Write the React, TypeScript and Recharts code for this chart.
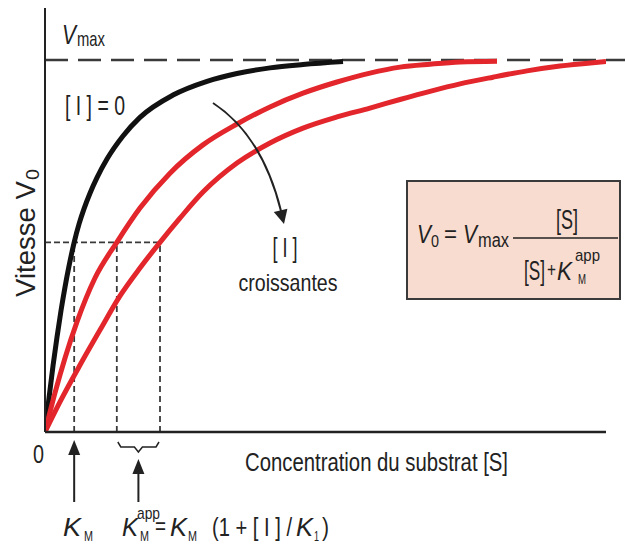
import type { ReactNode } from 'react';
import { LineChart, Line, XAxis, YAxis, ReferenceLine } from 'recharts';

const W = 625;
const H = 549;
const MARGIN = { top: 8, right: 19, bottom: 117, left: 45 };
const S_MAX = 100;
const V_TOP = 1.14;

const FONT = '"Liberation Sans", Arial, sans-serif';
const INK = '#222';
const DASH = '#3a3a3a';
const RED = '#e2262b';

// substrate concentration (arbitrary units) and V0 / Vmax for each curve
const noInhibitorS = [0, 0.71, 1.43, 2.14, 2.85, 3.57, 4.28, 5.2, 6.06, 6.95, 8.02, 9.27, 11.05, 13.9, 16.93, 22.82, 28.88, 34.22, 40.11, 45.99, 53.12];
const noInhibitorV = [0, 0.091, 0.178, 0.255, 0.326, 0.39, 0.446, 0.51, 0.559, 0.6, 0.642, 0.684, 0.734, 0.796, 0.846, 0.906, 0.943, 0.964, 0.979, 0.988, 0.996];

const lowInhibitorS = [0, 1.78, 3.57, 5.7, 8.91, 12.8, 16.93, 22.28, 28.16, 34.22, 40.11, 45.99, 52.05, 57.93, 63.28, 68.63, 73.98, 80.57];
const lowInhibitorV = [0, 0.105, 0.199, 0.296, 0.414, 0.51, 0.602, 0.696, 0.772, 0.828, 0.874, 0.911, 0.941, 0.965, 0.981, 0.989, 0.995, 0.997];

const highInhibitorS = [0, 2.67, 6.24, 9.8, 13.37, 16.93, 20.5, 24.06, 28.16, 34.22, 40.11, 45.99, 52.05, 57.93, 63.28, 68.63, 73.98, 79.86, 85.92, 91.8, 97.68, 100];
const highInhibitorV = [0, 0.081, 0.18, 0.274, 0.366, 0.441, 0.51, 0.575, 0.645, 0.723, 0.777, 0.817, 0.847, 0.871, 0.894, 0.916, 0.936, 0.954, 0.971, 0.984, 0.993, 0.996];

const VMAX = 1;
const HALF = 0.51;
const KM = 5.2;
const KM_APP = [12.8, 20.5];

const zip = (s: number[], v: number[]) => s.map((x, i) => ({ s: x, v: v[i] }));

const curves = [
  { name: '[I] = 0', data: zip(noInhibitorS, noInhibitorV), color: '#111' },
  { name: '[I] faible', data: zip(lowInhibitorS, lowInhibitorV), color: RED },
  { name: '[I] forte', data: zip(highInhibitorS, highInhibitorV), color: RED },
];

// same mapping as the plot area, for the annotations drawn on top
const sx = (s: number) => MARGIN.left + (s / S_MAX) * (W - MARGIN.left - MARGIN.right);

// condensed-looking text: glyphs squeezed to a given width
function T(props: {
  x: number;
  y: number;
  w?: number;
  size: number;
  italic?: boolean;
  anchor?: 'start' | 'middle' | 'end';
  children: ReactNode;
}) {
  const { x, y, w, size, italic, anchor, children } = props;
  return (
    <text
      x={x}
      y={y}
      fontSize={size}
      fontStyle={italic ? 'italic' : undefined}
      textAnchor={anchor}
      textLength={w}
      lengthAdjust={w ? 'spacingAndGlyphs' : undefined}
    >
      {children}
    </text>
  );
}

function Annotations() {
  const km = sx(KM);
  const a0 = sx(KM_APP[0]);
  const a1 = sx(KM_APP[1]);
  const appMid = (a0 + a1) / 2;
  return (
    <svg width={W} height={H} style={{ position: 'absolute', left: 0, top: 0, pointerEvents: 'none' }} fontFamily={FONT} fill={INK}>
      {/* Vmax */}
      <T x={62} y={44} w={14} size={27} italic>V</T>
      <T x={77} y={46} w={28} size={21}>max</T>

      <T x={65} y={115} w={60} size={28}>[ I ] = 0</T>

      {/* y label */}
      <g transform="rotate(-90)">
        <T x={-297} y={35} w={116} size={27}>Vitesse V</T>
        <T x={-180} y={39} w={11} size={18}>0</T>
      </g>

      {/* increasing inhibitor arrow */}
      <path d="M213,103 Q262,135 281,211" fill="none" stroke={INK} strokeWidth={2} />
      <polygon points="284,224 287.4,208.7 273.8,212.1" fill={INK} />
      <T x={285} y={257} w={25} size={27} anchor="middle">[ I ]</T>
      <T x={288} y={291} w={99} size={24} anchor="middle">croissantes</T>

      {/* rate equation */}
      <rect x={407} y={181} width={213} height={118} fill="#f8dccf" stroke={DASH} strokeWidth={2} />
      <T x={417} y={243} w={14} size={25} italic>V</T>
      <T x={431} y={247} w={8} size={17}>0</T>
      <T x={444} y={242} w={13} size={24}>=</T>
      <T x={463} y={243} w={14} size={25} italic>V</T>
      <T x={478} y={247} w={31} size={20}>max</T>
      <line x1={513} y1={238} x2={618} y2={238} stroke={INK} strokeWidth={1.5} />
      <T x={567} y={229} w={22} size={27} anchor="middle">[S]</T>
      <T x={524} y={280} w={21} size={27}>[S]</T>
      <T x={547} y={277} w={9} size={20}>+</T>
      <T x={557} y={280} w={15} size={25} italic>K</T>
      <T x={575} y={261} w={25} size={17}>app</T>
      <T x={578} y={284} w={8} size={14}>M</T>

      {/* axis origin and x label */}
      <T x={33} y={463} w={11} size={25}>0</T>
      <T x={245} y={471} w={263} size={25}>Concentration du substrat [S]</T>

      {/* KM arrow */}
      <line x1={km} y1={452} x2={km} y2={502} stroke={INK} strokeWidth={2} />
      <polygon points={`${km},440 ${km - 6},455 ${km + 6},455`} fill={INK} />

      {/* apparent KM brace and arrow */}
      <path
        d={`M${a0 + 1},442 L${a0 + 4},447 L${appMid - 4},447 L${appMid},452 L${appMid + 4},447 L${a1 - 4},447 L${a1 - 1},442`}
        fill="none"
        stroke={INK}
        strokeWidth={1.5}
      />
      <line x1={appMid} y1={472} x2={appMid} y2={502} stroke={INK} strokeWidth={2} />
      <polygon points={`${appMid},459 ${appMid - 6},474 ${appMid + 6},474`} fill={INK} />

      {/* KM labels */}
      <T x={63} y={536} w={18} size={26} italic>K</T>
      <T x={84} y={541} w={9} size={14}>M</T>

      <T x={122} y={536} w={16} size={26} italic>K</T>
      <T x={137} y={519} w={23} size={17}>app</T>
      <T x={140} y={541} w={9} size={14}>M</T>
      <T x={155} y={534} w={11} size={24}>=</T>
      <T x={170} y={536} w={17} size={26} italic>K</T>
      <T x={188} y={541} w={9} size={14}>M</T>
      <T x={212} y={536} w={80} size={26}>(1 + [ I ] /</T>
      <T x={296} y={536} w={17} size={26} italic>K</T>
      <T x={314} y={541} w={5} size={14}>1</T>
      <T x={322} y={536} w={7} size={26}>)</T>
    </svg>
  );
}

export default function App() {
  return (
    <div style={{ position: 'absolute', left: 0, top: 0, width: W, height: H, background: '#fff' }}>
      <LineChart width={W} height={H} margin={MARGIN}>
        <XAxis dataKey="s" type="number" domain={[0, S_MAX]} hide allowDataOverflow />
        <YAxis type="number" domain={[0, V_TOP]} hide allowDataOverflow />

        <ReferenceLine
          segment={[{ x: 0, y: VMAX }, { x: 103.4, y: VMAX }]}
          ifOverflow="visible"
          stroke={DASH}
          strokeWidth={2.5}
          strokeDasharray="23 10"
        />
        <ReferenceLine
          segment={[{ x: 0, y: HALF }, { x: KM_APP[1], y: HALF }]}
          stroke={DASH}
          strokeWidth={1.8}
          strokeDasharray="6 3"
        />
        {[KM, ...KM_APP].map((k) => (
          <ReferenceLine
            key={k}
            segment={[{ x: k, y: 0 }, { x: k, y: HALF }]}
            stroke={DASH}
            strokeWidth={1.8}
            strokeDasharray="6 4"
          />
        ))}

        {curves.map((c) => (
          <Line
            key={c.name}
            name={c.name}
            data={c.data}
            dataKey="v"
            type="monotone"
            stroke={c.color}
            strokeWidth={5}
            dot={false}
            activeDot={false}
            isAnimationActive={false}
          />
        ))}

        <ReferenceLine x={0} stroke={INK} strokeWidth={2} />
        <ReferenceLine y={0} stroke={INK} strokeWidth={2.5} />
      </LineChart>
      <Annotations />
    </div>
  );
}
